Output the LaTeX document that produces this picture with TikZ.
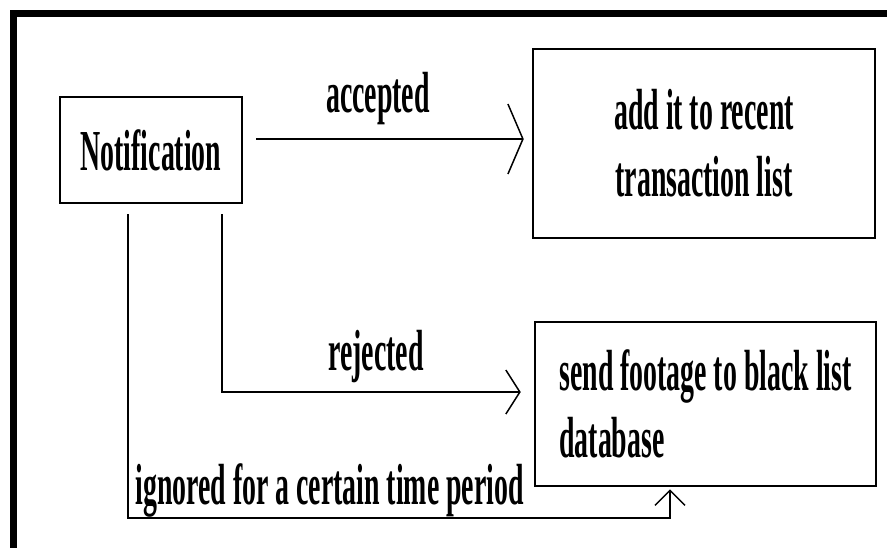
\documentclass[tikz,border=0pt]{standalone}
\usepackage{fontspec}
\usepackage{tikz}
\usetikzlibrary{arrows.meta, positioning, calc}
\newfontfamily\diagfont{Liberation Serif}[FakeStretch=0.48]

\begin{document}
\begin{tikzpicture}[
  every node/.style={font=\diagfont\bfseries\fontsize{33}{38}\selectfont},
  box/.style={
    rectangle,
    draw=black,
    line width=0.05cm,
    fill=white
  },
  flow/.style={
    draw=black,
    line width=0.04cm
  },
  tag/.style={
    inner sep=0pt
  }
]
  \useasboundingbox (0,0) rectangle (17.74,-10.96);
  % outer frame (top and left only)
  \draw[line width=0.14cm] (17.74,-0.27) -- (0.27,-0.27) -- (0.27,-10.96);

  % boxes
  \node[box, minimum width=3.64cm, minimum height=2.12cm] (note) at (3.02,-3.0) {Notification};
  \node[box, align=center, minimum width=6.84cm, minimum height=3.78cm] (recent) at (14.08,-2.87) {add it to recent\\transaction list};
  \node[box, align=left, minimum width=6.82cm, minimum height=3.28cm] (black) at (14.11,-8.08) {send footage to black list\\database};

  % helper points for the routes
  \coordinate (acc) at (0,-2.78);
  \coordinate (rej) at (4.44,-7.84);
  \coordinate (ign) at (2.56,-10.36);
  \coordinate (turn) at (13.4,-10.36);

  % accepted
  \draw[flow, -{Straight Barb[length=0.3cm, width=1.4cm, line width=0.03cm]}, shorten <=0.26cm, shorten >=0.16cm]
    (note.east |- acc) -- (recent.west |- acc);
  \node[tag] (acclabel) at (7.56,-1.98) {accepted};

  % rejected
  \draw[flow, -{Straight Barb[length=0.28cm, width=0.88cm, line width=0.03cm]}, shorten <=0.2cm, shorten >=0.26cm]
    (note.south -| rej) -- (rej) -- (black.west |- rej);
  \node[tag] (rejlabel) at (7.52,-7.14) {rejected};

  % ignored
  \draw[flow, -{Straight Barb[length=0.3cm, width=0.6cm, line width=0.03cm]}, shorten <=0.2cm, shorten >=0.04cm]
    (note.south -| ign) -- (ign) -- (turn) -- (turn |- black.south);
  \node[tag, anchor=west] (ignlabel) at (2.7,-9.8) {ignored for a certain time period};
\end{tikzpicture}
\end{document}
